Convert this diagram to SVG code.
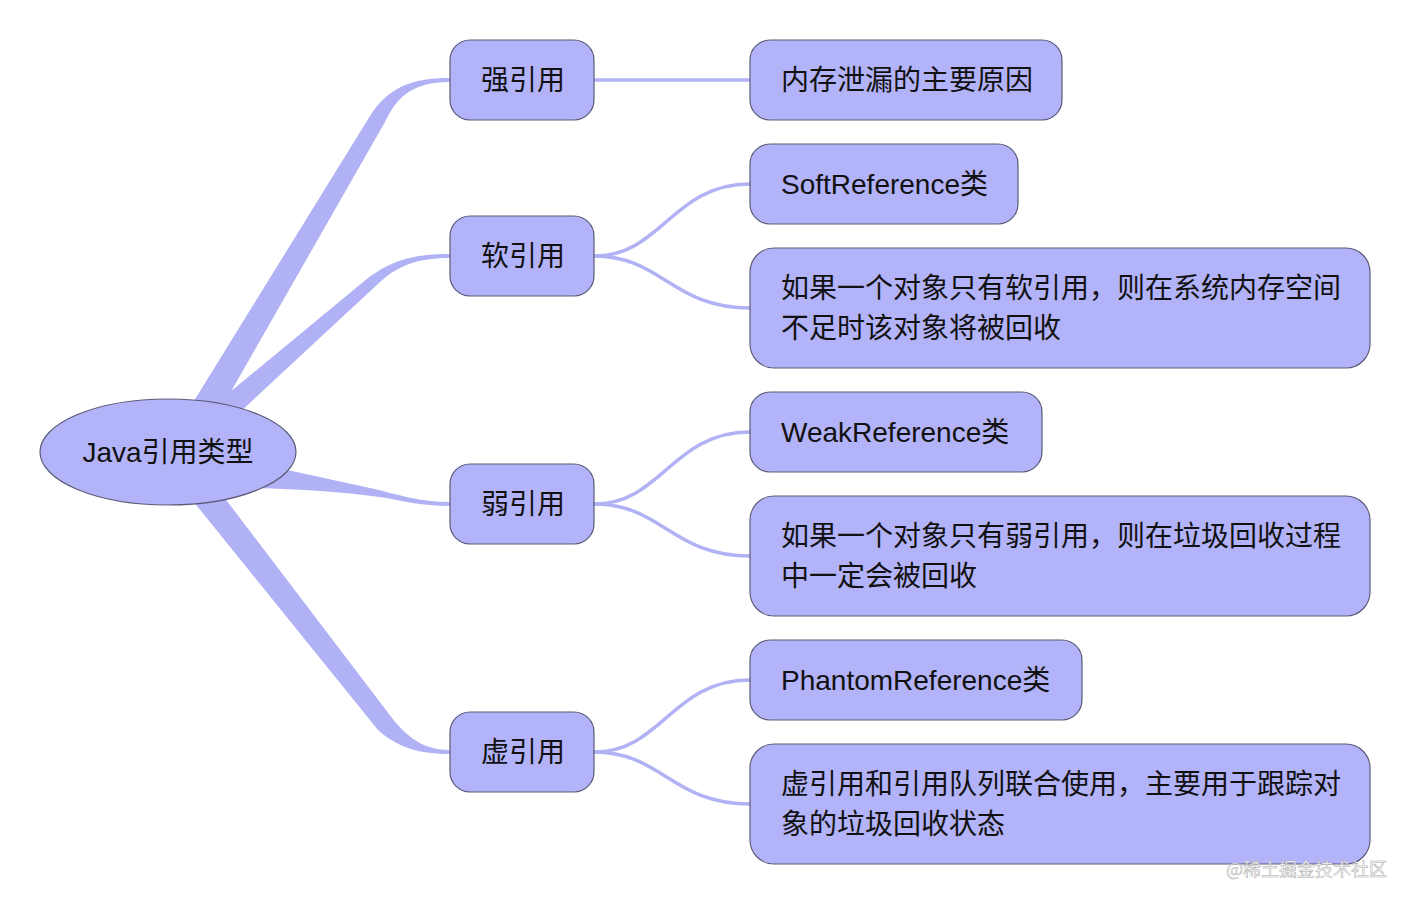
<svg xmlns="http://www.w3.org/2000/svg" width="1410" height="904" viewBox="0 0 1410 904">
<style>
.node{fill:#b3b3f9;stroke:#5b5b78;stroke-width:1.2}
.t{font-family:"Liberation Sans","Noto Sans CJK SC",sans-serif;font-size:28px;fill:#111}
.br{fill:#b1b1f6;stroke:none}
.ln{fill:none;stroke:#b1b1f6;stroke-width:3.5}
.wm{font-family:"Noto Sans CJK SC",sans-serif;font-size:18px;fill:#ffffff;stroke:#a8a8a8;stroke-width:0.5}
</style>
<rect width="1410" height="904" fill="#ffffff"/>
<g id="connectors">
<path class="br" d="M176,430 L370,116 C388,88 410,78 450,78 L450,82 C416,82 398,94 385,122 L209,430 Z"/>
<path class="br" d="M190,425 L368,278 C390,262 410,254 450,254 L450,258 C420,258 400,264 380,282 L226,425 Z"/>
<path class="br" d="M250,462 L370,488 C400,495 420,502 450,502 L450,506 C420,506 400,500 380,497 C340,492 300,489 250,488 Z"/>
<path class="br" d="M211,480 L392,718 C408,738 424,750 450,750 L450,754 C420,754 398,748 378,730 L176,480 Z"/>
<path class="ln" d="M594,80 L750,80"/>
<path class="ln" d="M594,256 C662,256 672,184 750,184"/>
<path class="ln" d="M594,256 C662,256 672,308 750,308"/>
<path class="ln" d="M594,504 C662,504 672,432 750,432"/>
<path class="ln" d="M594,504 C662,504 672,556 750,556"/>
<path class="ln" d="M594,752 C662,752 672,680 750,680"/>
<path class="ln" d="M594,752 C662,752 672,804 750,804"/>
</g>
<g id="root">
<ellipse class="node" cx="168" cy="452" rx="128" ry="53"/>
<text class="t" x="168" y="462" text-anchor="middle">Java引用类型</text>
</g>
<g id="strong">
<rect class="node" x="450" y="40" width="144" height="80" rx="20"/>
<text class="t" x="481" y="90">强引用</text>
</g>
<g id="soft">
<rect class="node" x="450" y="216" width="144" height="80" rx="20"/>
<text class="t" x="481" y="266">软引用</text>
</g>
<g id="weak">
<rect class="node" x="450" y="464" width="144" height="80" rx="20"/>
<text class="t" x="481" y="514">弱引用</text>
</g>
<g id="phantom">
<rect class="node" x="450" y="712" width="144" height="80" rx="20"/>
<text class="t" x="481" y="762">虚引用</text>
</g>
<g id="strong-desc">
<rect class="node" x="750" y="40" width="312" height="80" rx="20"/>
<text class="t" x="781" y="90">内存泄漏的主要原因</text>
</g>
<g id="soft-class">
<rect class="node" x="750" y="144" width="268" height="80" rx="20"/>
<text class="t" x="781" y="194">SoftReference类</text>
</g>
<g id="soft-desc">
<rect class="node" x="750" y="248" width="620" height="120" rx="24"/>
<text class="t" x="781" y="298">如果一个对象只有软引用，则在系统内存空间</text>
<text class="t" x="781" y="338">不足时该对象将被回收</text>
</g>
<g id="weak-class">
<rect class="node" x="750" y="392" width="292" height="80" rx="20"/>
<text class="t" x="781" y="442">WeakReference类</text>
</g>
<g id="weak-desc">
<rect class="node" x="750" y="496" width="620" height="120" rx="24"/>
<text class="t" x="781" y="546">如果一个对象只有弱引用，则在垃圾回收过程</text>
<text class="t" x="781" y="586">中一定会被回收</text>
</g>
<g id="phantom-class">
<rect class="node" x="750" y="640" width="332" height="80" rx="20"/>
<text class="t" x="781" y="690">PhantomReference类</text>
</g>
<g id="phantom-desc">
<rect class="node" x="750" y="744" width="620" height="120" rx="24"/>
<text class="t" x="781" y="794">虚引用和引用队列联合使用，主要用于跟踪对</text>
<text class="t" x="781" y="834">象的垃圾回收状态</text>
</g>
<text class="wm" x="1226" y="876">@稀土掘金技术社区</text>
</svg>
